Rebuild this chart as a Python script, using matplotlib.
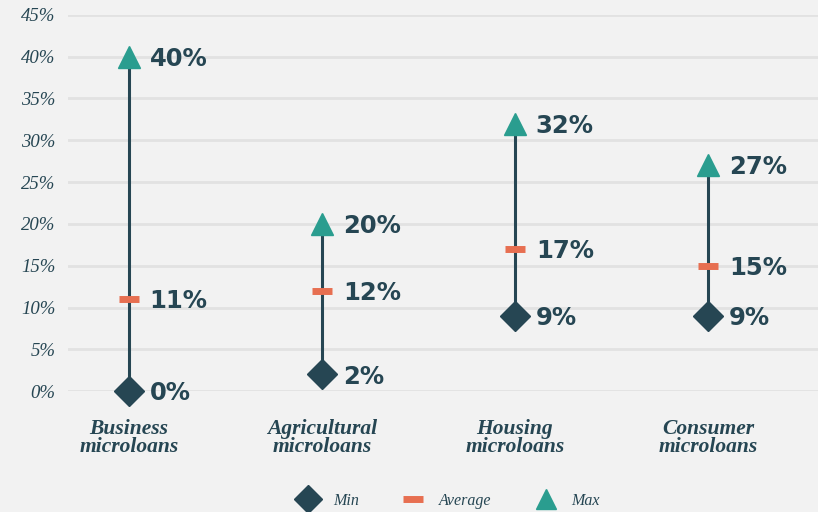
import matplotlib.pyplot as plt
from matplotlib.lines import Line2D

# loan types and their rate range (percent)
categories = ["Business\nmicroloans", "Agricultural\nmicroloans",
              "Housing\nmicroloans", "Consumer\nmicroloans"]
min_rate = [0, 2, 9, 9]
avg_rate = [11, 12, 17, 15]
max_rate = [40, 20, 32, 27]
y_ticks = [0, 5, 10, 15, 20, 25, 30, 35, 40, 45]

DARK = "#264653"
ORANGE = "#E76F51"
TEAL = "#2A9D8F"
BG = "#F2F2F2"
SANS = "DejaVu Sans"

plt.rcParams["font.family"] = "serif"
plt.rcParams["font.serif"] = ["Liberation Serif", "DejaVu Serif"]

fig = plt.figure(figsize=(8.18, 5.12), dpi=100, facecolor=BG)
ax = fig.add_axes([0.083, 0.236, 0.917, 0.735], facecolor=BG)

x = list(range(len(categories)))

for xi, lo, av, hi in zip(x, min_rate, avg_rate, max_rate):
    ax.plot([xi, xi], [lo, hi], color=DARK, lw=2.2, zorder=3, solid_capstyle="butt")
    ax.plot(xi, hi, marker="^", ms=16, color=TEAL, zorder=4, clip_on=False)
    ax.plot(xi, av, marker="_", ms=14, mew=5, color=ORANGE, zorder=4, clip_on=False)
    ax.plot(xi, lo, marker="D", ms=15, color=DARK, zorder=4, clip_on=False)
    for v in (lo, av, hi):
        ax.annotate(f"{v}%", (xi, v), xytext=(15, -1.5), textcoords="offset points",
                    va="center", ha="left", fontsize=17.5, fontweight="bold",
                    family=SANS, color=DARK)

ax.set_xlim(-0.316, 3.57)
ax.set_ylim(0, 45)
ax.set_yticks(y_ticks)
ax.set_yticklabels([f"{t}%" for t in y_ticks], style="italic",
                   fontsize=13.5, color=DARK)
ax.set_xticks(x)
ax.set_xticklabels(categories, style="italic", fontweight="bold",
                   fontsize=15.5, color=DARK, linespacing=0.9)
ax.tick_params(axis="both", length=0)
ax.tick_params(axis="y", pad=9)
ax.tick_params(axis="x", pad=20)
ax.grid(axis="y", color="#E2E2E2", lw=2)
ax.set_axisbelow(True)
for s in ax.spines.values():
    s.set_visible(False)

handles = [
    Line2D([], [], ls="none", marker="D", ms=14, color=DARK, label="Min"),
    Line2D([], [], ls="none", marker="_", ms=14, mew=5, color=ORANGE, label="Average"),
    Line2D([], [], ls="none", marker="^", ms=15, color=TEAL, label="Max"),
]
fig.legend(handles=handles, loc="center", bbox_to_anchor=(0.545, 0.022), ncol=3,
           frameon=False, prop={"style": "italic", "size": 11.5},
           labelcolor=DARK, columnspacing=2.4, handletextpad=0.6)

fig.savefig("out.png", dpi=100, facecolor=BG)
